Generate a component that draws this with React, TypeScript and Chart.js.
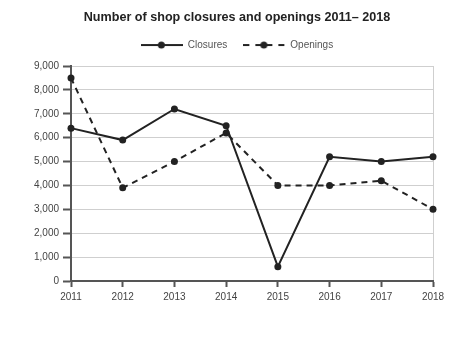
import React, { useEffect, useRef } from "react";
import { Chart, registerables } from "chart.js";

Chart.register(...registerables);

const years = ["2011", "2012", "2013", "2014", "2015", "2016", "2017", "2018"];
const closures = [6400, 5900, 7200, 6500, 600, 5200, 5000, 5200];
const openings = [8500, 3900, 5000, 6200, 4000, 4000, 4200, 3000];
const titleText = "Number of shop closures and openings 2011\u2013 2018";

const FONT = "Liberation Sans, Arial, sans-serif";

function legendIcon(dashed: boolean): HTMLCanvasElement {
  const c = document.createElement("canvas");
  c.width = 42;
  c.height = 10;
  const ctx = c.getContext("2d")!;
  ctx.strokeStyle = "#222";
  ctx.fillStyle = "#222";
  ctx.lineWidth = 2;
  const segs = dashed ? [[0, 6], [12, 29], [35, 41]] : [[0, 42]];
  for (const [a, b] of segs) {
    ctx.beginPath();
    ctx.moveTo(a, 5);
    ctx.lineTo(b, 5);
    ctx.stroke();
  }
  ctx.beginPath();
  ctx.arc(20.5, 5, 3.5, 0, Math.PI * 2);
  ctx.fill();
  return c;
}

export default function App() {
  const ref = useRef<HTMLCanvasElement>(null);
  useEffect(() => {
    const icons = [legendIcon(false), legendIcon(true)];
    const chart = new Chart(ref.current!, {
      type: "line",
      data: {
        labels: years,
        datasets: [
          {
            label: "Closures",
            data: closures,
            borderColor: "#222",
            backgroundColor: "#222",
            borderWidth: 2,
            pointRadius: 3.5,
            pointBackgroundColor: "#222",
            pointBorderWidth: 0,
            tension: 0,
          },
          {
            label: "Openings",
            data: openings,
            borderColor: "#222",
            backgroundColor: "#222",
            borderWidth: 2,
            borderDash: [6, 5],
            pointRadius: 3.5,
            pointBackgroundColor: "#222",
            pointBorderWidth: 0,
            tension: 0,
          },
        ],
      },
      options: {
        animation: false,
        responsive: false,
        maintainAspectRatio: false,
        layout: { padding: 0 },
        plugins: {
          title: {
            display: true,
            text: titleText,
            color: "#222",
            font: { family: FONT, size: 12.6, weight: "bold" },
            padding: { top: 9.5, bottom: -0.6 },
          },
          legend: {
            display: true,
            labels: {
              usePointStyle: true,
              pointStyleWidth: 42,
              padding: 16,
              color: "#555",
              font: { family: FONT, size: 10 },
              generateLabels: (ch: any) =>
                ch.data.datasets.map((d: any, i: number) => ({
                  text: d.label,
                  pointStyle: icons[i],
                  fillStyle: "#222",
                  strokeStyle: "#222",
                  lineWidth: 0,
                  hidden: false,
                  datasetIndex: i,
                  fontColor: "#555",
                })),
            },
          },
          tooltip: { enabled: false },
        },
        scales: {
          x: {
            grid: {
              drawOnChartArea: true,
              color: (c: any) => (c.index === 7 ? "#cfcfcf" : "rgba(0,0,0,0)"),
              tickColor: "#555",
              tickLength: 6,
              tickWidth: 2,
            },
            border: { color: "#555", width: 2 },
            ticks: {
              color: "#444",
              font: { family: FONT, size: 10 },
              padding: 4,
              maxRotation: 0,
            },
            afterFit: (s: any) => {
              s.height = 81;
            },
          },
          xTopSpace: {
            type: "category",
            position: "top",
            display: true,
            grid: { display: false },
            border: { display: false },
            ticks: { display: false },
            afterFit: (s: any) => {
              s.height = 6;
            },
          },
          y: {
            min: 0,
            max: 9000,
            ticks: {
              stepSize: 1000,
              color: "#444",
              font: { family: FONT, size: 10 },
              padding: 4,
              callback: (v: any) => Number(v).toLocaleString("en-US"),
            },
            grid: {
              color: "#cfcfcf",
              tickColor: "#555",
              tickLength: 8,
              tickWidth: 2,
            },
            border: { color: "#555", width: 2 },
            afterFit: (s: any) => {
              s.width = 71;
            },
          },
          yRightSpace: {
            type: "linear",
            position: "right",
            display: true,
            grid: { display: false },
            border: { display: false },
            ticks: { display: false },
            afterFit: (s: any) => {
              s.width = 41;
            },
          },
        },
      },
    });
    return () => chart.destroy();
  }, []);
  return (
    <div style={{ position: "fixed", left: 0, top: 0, width: 474, height: 362, background: "#fff" }}>
      <canvas ref={ref} width={474} height={362} style={{ width: 474, height: 362 }} />
    </div>
  );
}
